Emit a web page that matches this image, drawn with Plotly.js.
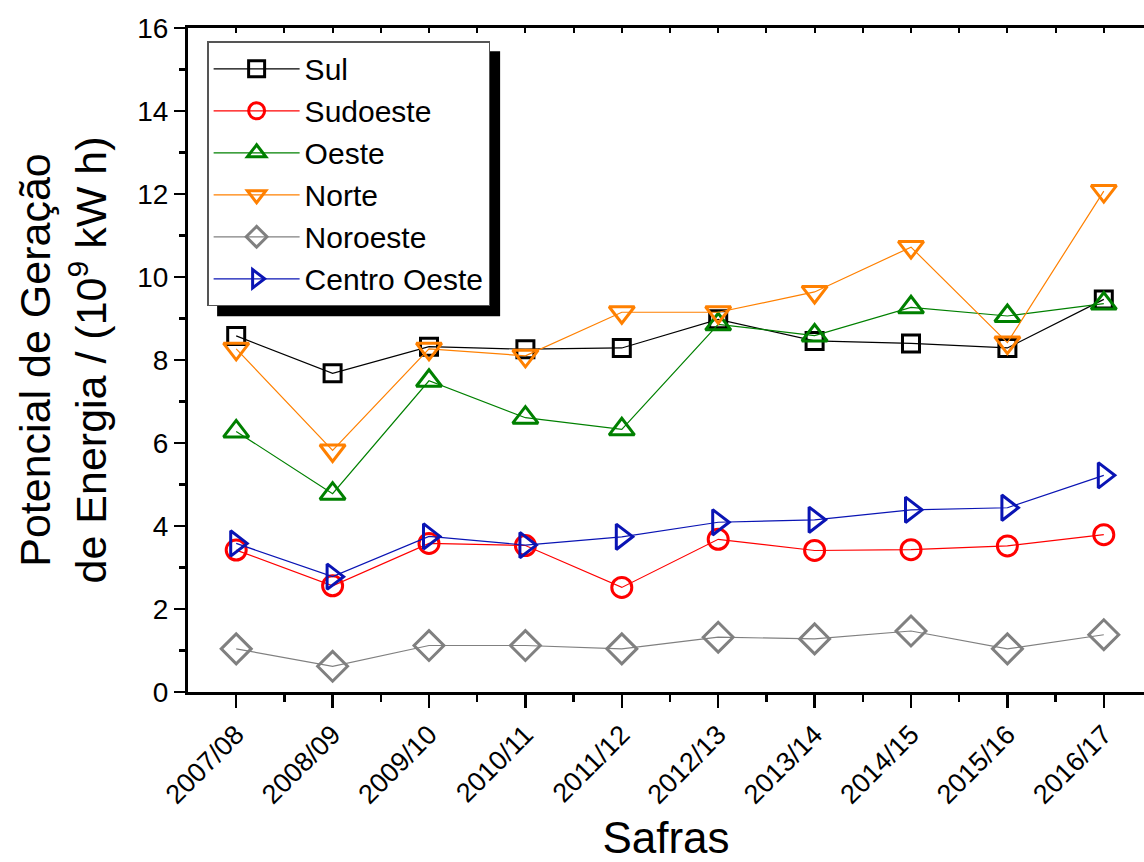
<!DOCTYPE html>
<html>
<head>
<meta charset="utf-8">
<script src="https://cdn.plot.ly/plotly-3.0.1.min.js"></script>
<style>html,body{margin:0;padding:0;background:#fff;}#chart{width:1144px;height:862px;}</style>
</head>
<body>
<div id="chart"></div>
<script>
const categories = ['2007/08','2008/09','2009/10','2010/11','2011/12','2012/13','2013/14','2014/15','2015/16','2016/17'];
const sul       = [8.58, 7.68, 8.32, 8.26, 8.29, 8.98, 8.46, 8.40, 8.29, 9.46];
const sudoeste  = [3.42, 2.56, 3.58, 3.53, 2.52, 3.68, 3.41, 3.43, 3.52, 3.79];
const oeste     = [6.28, 4.78, 7.50, 6.61, 6.33, 8.86, 8.59, 9.27, 9.06, 9.36];
const norte     = [8.27, 5.82, 8.27, 8.10, 9.15, 9.15, 9.64, 10.72, 8.42, 12.07];
const noroeste  = [1.04, 0.62, 1.12, 1.12, 1.04, 1.32, 1.28, 1.47, 1.04, 1.38];
const centroOeste = [3.58, 2.78, 3.75, 3.54, 3.74, 4.09, 4.15, 4.39, 4.44, 5.22];
const seriesNames = ['Sul','Sudoeste','Oeste','Norte','Noroeste','Centro Oeste'];
const yTickVals = [0,2,4,6,8,10,12,14,16];

const xIdx = categories.map((c,i)=>i);
const FONT = 'Liberation Sans, Arial, sans-serif';

function tr(name, y, color, symbol, size){
  return {x:xIdx, y:y, name:name, type:'scatter', mode:'lines+markers',
    line:{color:color, width:1.2},
    marker:{symbol:symbol, size:size, color:color, line:{color:color, width:3}}};
}
const data = [
  tr(seriesNames[0], sul, '#000000', 'square-open', 17),
  tr(seriesNames[1], sudoeste, '#ff0000', 'circle-open', 20),
  tr(seriesNames[2], oeste, '#008000', 'triangle-up-open', 22),
  tr(seriesNames[3], norte, '#ff8000', 'triangle-down-open', 22),
  tr(seriesNames[4], noroeste, '#808080', 'diamond-open', 23),
  tr(seriesNames[5], centroOeste, '#0a14b4', 'triangle-right-open', 22),
  {x:[], y:[], xaxis:'x2', yaxis:'y', showlegend:false, type:'scatter', hoverinfo:'skip'}
];

const xr = [-0.5, 9.417];
const layout = {
  width:1144, height:862,
  margin:{l:188, r:0, t:28, b:170},
  paper_bgcolor:'#fff', plot_bgcolor:'#fff',
  font:{family:FONT, color:'#000'},
  showlegend:true,
  xaxis:{range:xr, tickmode:'array', tickvals:xIdx, ticktext:categories,
    tickangle:-45, tickfont:{size:27, family:FONT},
    ticks:'outside', ticklen:13, tickwidth:2.5, tickcolor:'#000',
    minor:{tickmode:'array', tickvals:xIdx.map(v=>v+0.5), ticks:'outside', ticklen:7, tickwidth:2.5, tickcolor:'#000'},
    showline:true, linewidth:3, linecolor:'#000', showgrid:false, zeroline:false,
    title:{text:'Safras', font:{size:44, family:FONT}, standoff:14}},
  xaxis2:{range:xr, overlaying:'x', side:'top', anchor:'y', tickmode:'linear', tick0:-0.5, dtick:0.5,
    ticks:'inside', ticklen:5, tickwidth:2, tickcolor:'#000', showticklabels:false,
    showline:true, linewidth:3, linecolor:'#000', showgrid:false, zeroline:false},
  yaxis:{range:[0,16], tickmode:'array', tickvals:yTickVals, tickfont:{size:28, family:FONT},
    ticks:'outside', ticklen:11, tickwidth:2.5, tickcolor:'#000',
    minor:{dtick:1, ticks:'outside', ticklen:6, tickwidth:2.5, tickcolor:'#000'},
    showline:true, linewidth:3, linecolor:'#000', showgrid:false, zeroline:false,
    title:{text:'Potencial de Geração<br>de Energia / (10<sup>9</sup> kW h)', font:{size:43, family:FONT}, standoff:18}},
  legend:{x:0.02, y:0.98, xanchor:'left', yanchor:'top', bgcolor:'#fff',
    bordercolor:'#555', borderwidth:1.5, font:{size:30, family:FONT}, itemwidth:86},
  shapes:[]
};
Plotly.newPlot('chart', data, layout, {displayModeBar:false, staticPlot:true}).then(function(gd){
  const fl = gd._fullLayout, lg = fl.legend, sz = fl._size;
  const w = lg._width, h = lg._height;
  const x0 = (10 + (lg.x*sz.w)) / sz.w;
  const x1 = (10 + lg.x*sz.w + w) / sz.w;
  const y1 = (lg.y*sz.h - 10) / sz.h;
  const y0 = (lg.y*sz.h - 10 - h) / sz.h;
  Plotly.relayout(gd, {shapes:[{type:'rect', xref:'paper', yref:'paper', x0:x0, x1:x1, y0:y0, y1:y1,
    fillcolor:'#000', line:{width:0}, layer:'above'}]});
});
</script>
</body>
</html>
